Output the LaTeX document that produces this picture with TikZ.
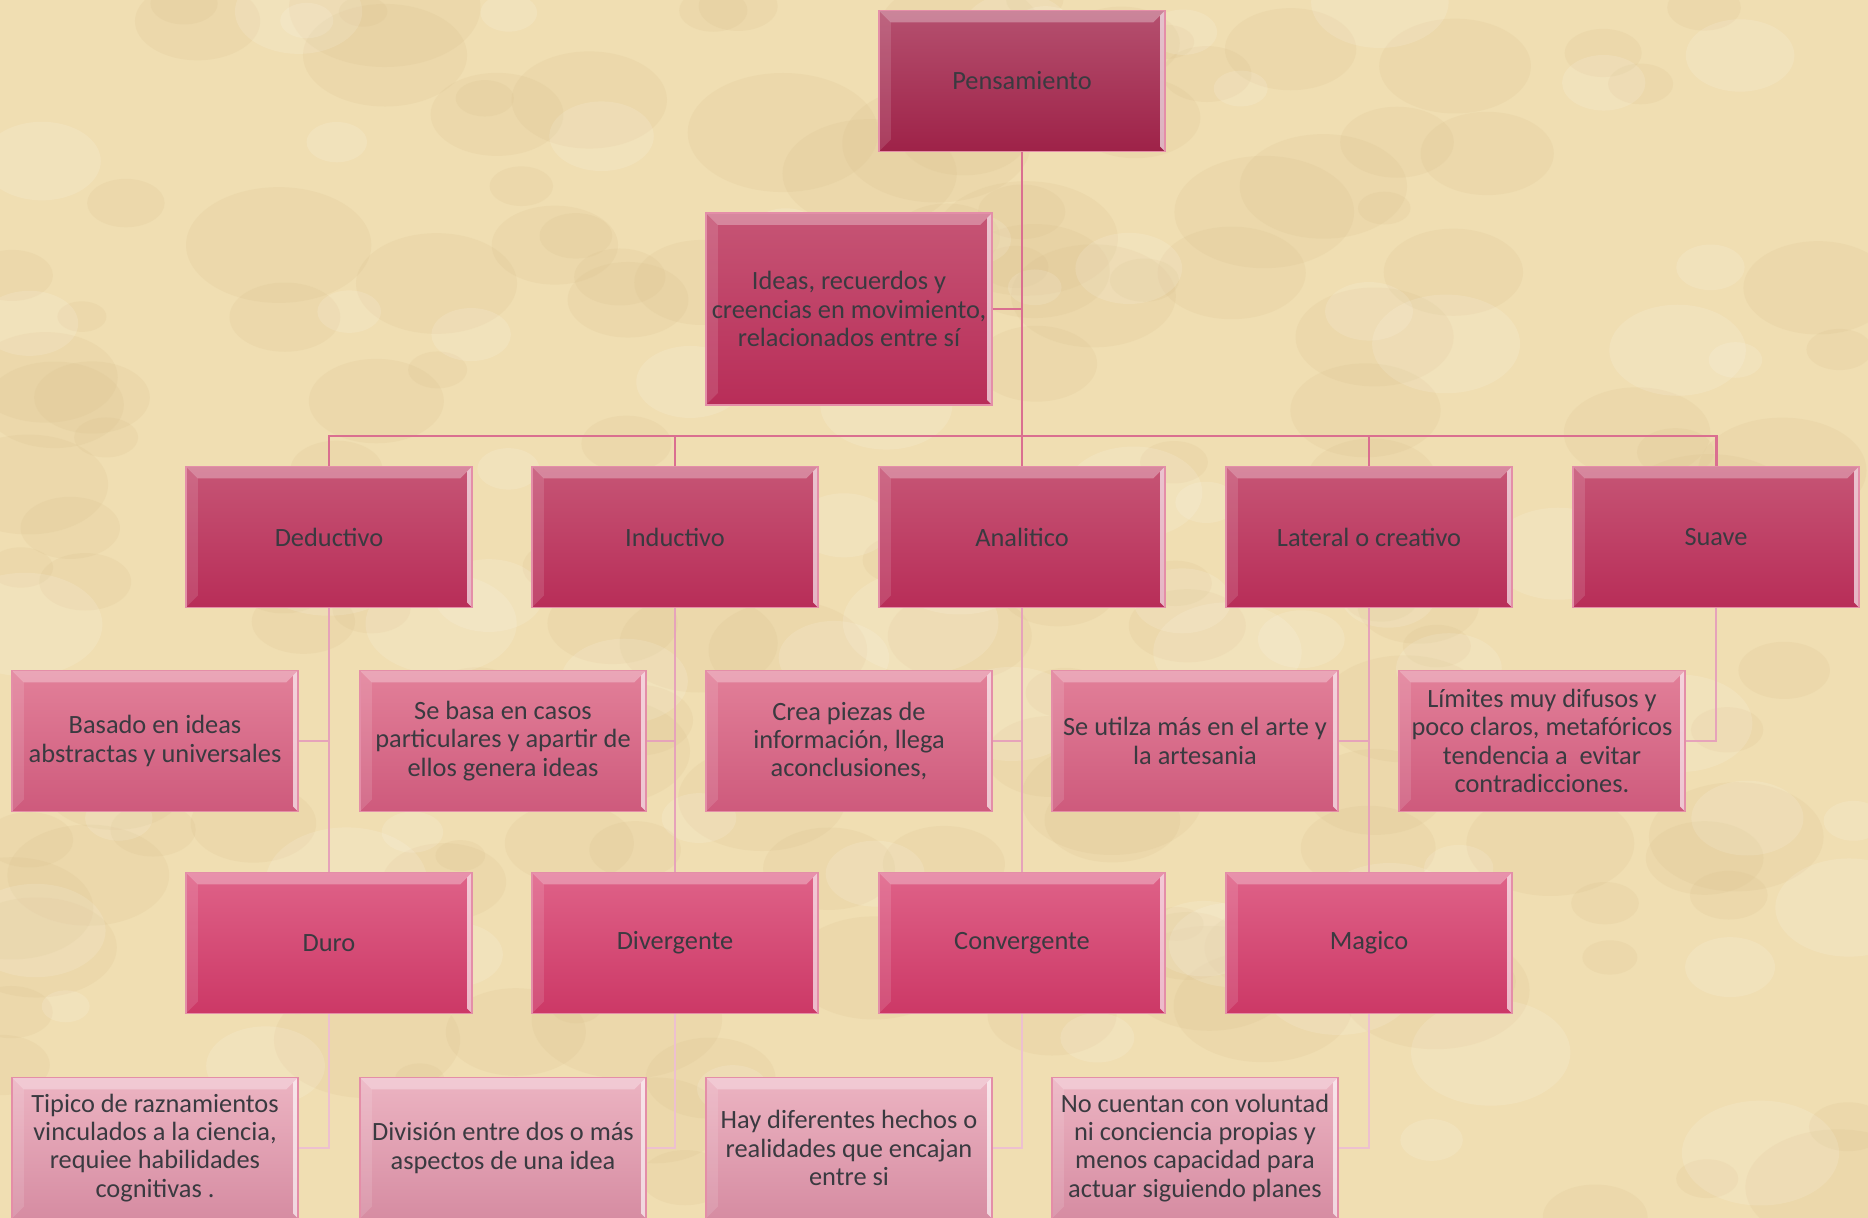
\documentclass[tikz,border=0pt]{standalone}
\usepackage{fontspec}
\setmainfont{Carlito}
\usetikzlibrary{positioning}
\definecolor{parch}{HTML}{F0DEB2}
\definecolor{parchd}{HTML}{D4B985}
\definecolor{ink}{HTML}{3A3A40}
\definecolor{edge}{HTML}{E48EA8}
\definecolor{link}{HTML}{DA6F90}
\definecolor{linkl}{HTML}{E6A3BA}
\definecolor{linkxl}{HTML}{EDC0D0}
\begin{document}
\begin{tikzpicture}[x=0.01cm,y=-0.01cm,
  box/.style={draw=edge,line width=0.4pt,minimum width=2.86cm,minimum height=1.41cm,inner sep=1pt,
    align=center,text=ink,font=\fontsize{7.5}{8}\selectfont,
    path picture={
      \fill[white,opacity=.3] (path picture bounding box.north west) -- (path picture bounding box.north east)
        -- ([shift={(-12,12)}]path picture bounding box.north east) -- ([shift={(12,12)}]path picture bounding box.north west) -- cycle;
      \fill[white,opacity=.12] (path picture bounding box.north west) -- ([shift={(12,12)}]path picture bounding box.north west)
        -- ([shift={(12,-12)}]path picture bounding box.south west) -- (path picture bounding box.south west) -- cycle;
      \fill[white,opacity=.65] (path picture bounding box.north east) -- (path picture bounding box.south east)
        -- ([shift={(-5,-5)}]path picture bounding box.south east) -- ([shift={(-5,5)}]path picture bounding box.north east) -- cycle;}},
  top/.style={box,top color={rgb,255:red,181;green,80;blue,111},bottom color={rgb,255:red,158;green,34;blue,72}},
  lvl/.style={box,top color={rgb,255:red,198;green,85;blue,117},bottom color={rgb,255:red,184;green,45;blue,88}},
  note/.style={box,top color={rgb,255:red,226;green,128;blue,153},bottom color={rgb,255:red,206;green,90;blue,124}},
  sub/.style={box,top color={rgb,255:red,223;green,98;blue,136},bottom color={rgb,255:red,204;green,56;blue,102}},
  subnote/.style={box,top color={rgb,255:red,236;green,180;blue,194},bottom color={rgb,255:red,214;green,140;blue,162}},
  wire/.style={draw=link,line width=0.85pt},
  wirel/.style={draw=linkl,line width=0.6pt},
  wirexl/.style={draw=linkxl,line width=0.6pt}]
% fondo
\useasboundingbox (0,0) rectangle (1868,1218);
\begin{scope}
\clip (0,0) rectangle (1868,1218);
\fill[parch] (0,0) rectangle (1868,1218);
\pgfmathsetseed{11}
\foreach \i in {1,...,160}{
  \pgfmathsetmacro\bx{rnd*1868}\pgfmathsetmacro\by{rnd*1218}\pgfmathsetmacro\br{15+rnd*45}
  \fill[parchd,opacity=.14] (\bx,\by) ellipse ({\br*1.6} and \br);}
\foreach \i in {1,...,80}{
  \pgfmathsetmacro\bx{rnd*1868}\pgfmathsetmacro\by{rnd*1218}\pgfmathsetmacro\br{15+rnd*40}
  \fill[white,opacity=.12] (\bx,\by) ellipse ({\br*1.5} and \br);}
\end{scope}
% nodos
\node[top](p)at(1022,81){Pensamiento};
\node[lvl,minimum height=1.92cm](ideas)at(849,309){Ideas, recuerdos y\\creencias en movimiento,\\relacionados entre sí};
\node[lvl](ded)at(329,537){Deductivo};
\node[lvl](ind)at(675,537){Inductivo};
\node[lvl](ana)at(1022,537){Analitico};
\node[lvl](lat)at(1369,537){Lateral o creativo};
\node[lvl](sua)at(1716,537){Suave};
\node[note](dedn)at(155,741){Basado en ideas\\abstractas y universales};
\node[note](indn)at(503,741){Se basa en casos\\particulares y apartir de\\ellos genera ideas};
\node[note](anan)at(849,741){Crea piezas de\\información, llega\\aconclusiones,};
\node[note](latn)at(1195,741){Se utilza más en el arte y\\la artesania};
\node[note](suan)at(1542,741){Límites muy difusos y\\poco claros, metafóricos\\tendencia a~ evitar\\contradicciones.};
\node[sub](duro)at(329,943){Duro};
\node[sub](div)at(675,943){Divergente};
\node[sub](conv)at(1022,943){Convergente};
\node[sub](mag)at(1369,943){Magico};
\node[subnote](duron)at(155,1148){Tipico de raznamientos\\vinculados a la ciencia,\\requiee habilidades\\cognitivas .};
\node[subnote](divn)at(503,1148){División entre dos o más\\aspectos de una idea};
\node[subnote](convn)at(849,1148){Hay diferentes hechos o\\realidades que encajan\\entre si};
\node[subnote](magn)at(1195,1148){No cuentan con voluntad\\ni conciencia propias y\\menos capacidad para\\actuar siguiendo planes};
% conectores
\coordinate(bus)at(1022,436);
\draw[wire](ideas.east)-|(p.south);\draw[wire](p.south)--(bus);
\foreach \n in {ded,ind,ana,lat,sua}\draw[wire](bus)-|(\n.north);
\foreach \a/\b/\c in {ded/dedn/duro,ind/indn/div,ana/anan/conv,lat/latn/mag}{\draw[wirel](\a.south)|-(\b.east);\draw[wirel](\a.south)--(\c.north);}
\draw[wirel](sua.south)|-(suan.east);
\foreach \a/\b in {duro/duron,div/divn,conv/convn,mag/magn}\draw[wirexl](\a.south)|-(\b.east);
\end{tikzpicture}
\end{document}
